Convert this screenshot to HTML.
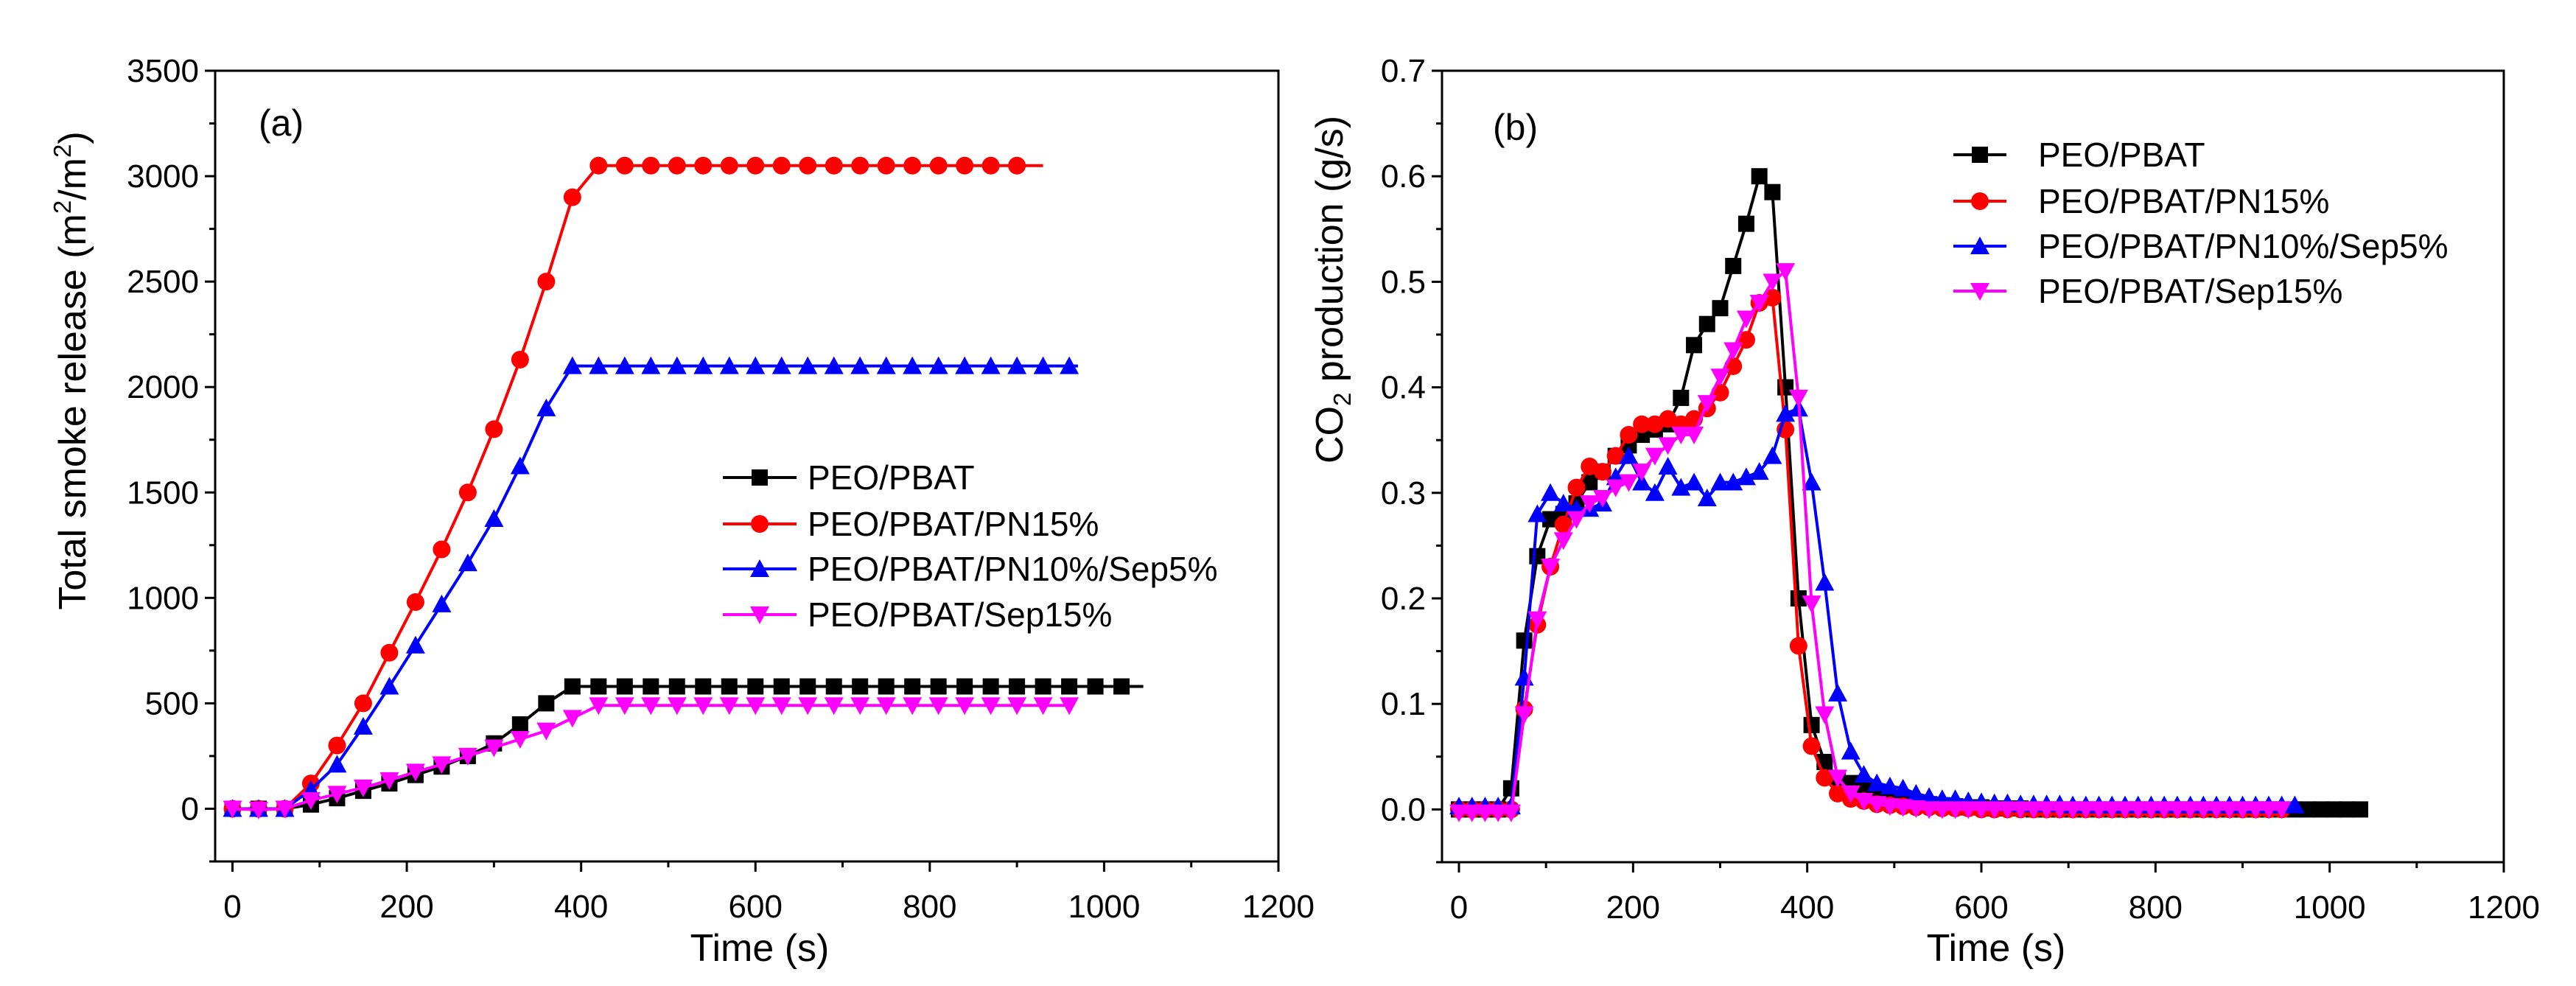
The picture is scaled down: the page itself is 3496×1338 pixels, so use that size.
<!DOCTYPE html>
<html><head><meta charset="utf-8"><style>
html,body{margin:0;padding:0;background:#fff;}
svg{display:block;font-family:"Liberation Sans",Arial,sans-serif;}
</style></head><body>
<svg id="chart" width="3496" height="1338" viewBox="0 0 3496 1338" xmlns="http://www.w3.org/2000/svg"></svg>
<script>
// ---------- Panel (a) data ----------
const timeA = [0,30,60,90,120,150,180,210,240,270,300,330,360,390,420,450,480,510,540,570,600,630,660,690,720,750,780,810,840,870,900,930,960,990,1020];
const smokeBlack = [0,0,0,20,50,85,120,160,200,250,310,400,500,580,580,580,580,580,580,580,580,580,580,580,580,580,580,580,580,580,580,580,580,580,580];
const smokeRed = [0,0,0,120,300,500,740,980,1230,1500,1800,2130,2500,2900,3050,3050,3050,3050,3050,3050,3050,3050,3050,3050,3050,3050,3050,3050,3050,3050,3050];
const smokeBlue = [0,0,0,90,210,390,580,775,970,1165,1375,1625,1900,2100,2100,2100,2100,2100,2100,2100,2100,2100,2100,2100,2100,2100,2100,2100,2100,2100,2100,2100,2100];
const smokeMagenta = [0,-5,0,40,70,100,135,175,210,250,290,330,370,430,490,490,490,490,490,490,490,490,490,490,490,490,490,490,490,490,490,490,490];
const lineEndA = [1045,930,970,965];
// ---------- Panel (b) data ----------
const stepB = 15;
const co2Black = [0,0,0,0,0.02,0.16,0.24,0.275,0.28,0.29,0.31,0.32,0.335,0.345,0.355,0.36,0.365,0.39,0.44,0.46,0.475,0.515,0.555,0.6,0.585,0.4,0.2,0.08,0.045,0.03,0.025,0.02,0.015,0.01,0.008,0.006,0.005,0.004,0.003,0.002,0.002,0.001,0.001,0.001,0,0,0,0,0,0,0,0,0,0,0,0,0,0,0,0,0,0,0,0,0,0,0,0,0,0];
const co2Red = [0,0,0,0,0,0.095,0.175,0.23,0.27,0.305,0.325,0.32,0.335,0.355,0.365,0.365,0.37,0.365,0.37,0.38,0.395,0.42,0.445,0.48,0.485,0.36,0.155,0.06,0.03,0.015,0.01,0.008,0.005,0.004,0.003,0.002,0.002,0.001,0.001,0.001,0,0,0,0,0,0,0,0,0,0,0,0,0,0,0,0,0,0,0,0,0,0,0,0];
const co2Blue = [0.003,0.003,0.003,0.003,0.003,0.125,0.28,0.3,0.29,0.285,0.285,0.29,0.315,0.335,0.31,0.3,0.325,0.305,0.31,0.295,0.31,0.31,0.315,0.32,0.335,0.375,0.38,0.31,0.215,0.11,0.055,0.033,0.025,0.022,0.02,0.015,0.012,0.01,0.01,0.008,0.007,0.006,0.006,0.005,0.005,0.005,0.005,0.004,0.004,0.004,0.004,0.004,0.004,0.004,0.004,0.004,0.004,0.004,0.004,0.004,0.004,0.004,0.004,0.004,0.004];
const co2Magenta = [-0.003,-0.003,-0.003,-0.003,-0.003,0.09,0.18,0.23,0.255,0.275,0.29,0.295,0.305,0.31,0.32,0.335,0.345,0.355,0.355,0.385,0.41,0.435,0.465,0.48,0.5,0.51,0.39,0.195,0.09,0.03,0.015,0.008,0.005,0.003,0.002,0.001,0,0,0,0,0,0,0,0,0,0,0,0,0,0,0,0,0,0,0,0,0,0,0,0,0,0,0,0];
const lineEndB = [1040,945,960,945];
const seriesNames = ["PEO/PBAT","PEO/PBAT/PN15%","PEO/PBAT/PN10%/Sep5%","PEO/PBAT/Sep15%"];
const seriesColors = ["#000000","#ff0000","#0000ff","#ff00ff"];
const seriesMarkers = ["square","circle","triangle","down"];
const xTicks = [0,200,400,600,800,1000,1200];
const yTicksA = [0,500,1000,1500,2000,2500,3000,3500];
const yTicksB = [0.0,0.1,0.2,0.3,0.4,0.5,0.6,0.7];

const NS="http://www.w3.org/2000/svg";
const svg=document.getElementById('chart');
function mk(tag,attrs,parent){const e=document.createElementNS(NS,tag);for(const k in attrs)e.setAttribute(k,attrs[k]);(parent||svg).appendChild(e);return e;}

function marker(g,type,x,y,color){
  const s=11;let e;
  if(type==="square") e=mk('rect',{x:x-s,y:y-s,width:2*s,height:2*s,fill:color},g);
  else if(type==="circle") e=mk('circle',{cx:x,cy:y,r:s+1,fill:color},g);
  else if(type==="triangle") e=mk('polygon',{points:`${x},${y-s-2} ${x+s+2},${y+s} ${x-s-2},${y+s}`,fill:color},g);
  else e=mk('polygon',{points:`${x-s-2},${y-s} ${x+s+2},${y-s} ${x},${y+s+2}`,fill:color},g);
  
  
}

function panel(o){
  const sx=v=>o.x0+(v-o.xmin)/(o.xmax-o.xmin)*(o.right-o.left0);
  const sy=v=>o.bottom-(v-o.ymin)/(o.ymax-o.ymin)*(o.bottom-o.top);
  const g=mk('g',{});
  
  
  xTicks.forEach(t=>{
    const X=sx(t);
    const l=mk('line',{x1:X,y1:o.bottom,x2:X,y2:o.bottom+14,stroke:'#000','stroke-width':3},g);
    
    const tx=mk('text',{x:X,y:o.bottom+76,'font-size':44,'text-anchor':'middle',fill:'#000'},g);
    tx.textContent=t;
    
    if(t<1200){const m=mk('line',{x1:sx(t+100),y1:o.bottom,x2:sx(t+100),y2:o.bottom+8,stroke:'#000','stroke-width':3},g);
      }
  });
  o.yTicks.forEach((t,i)=>{
    const Y=sy(t);
    const l=mk('line',{x1:o.left,y1:Y,x2:o.left-14,y2:Y,stroke:'#000','stroke-width':3},g);
    
    const tx=mk('text',{x:o.left-22,y:Y+15,'font-size':44,'text-anchor':'end',fill:'#000'},g);
    tx.textContent=o.fmt(t);
    
    const mY=sy(t-o.ystep/2);
    if(mY<=o.bottom){const m=mk('line',{x1:o.left,y1:mY,x2:o.left-8,y2:mY,stroke:'#000','stroke-width':3},g);
      }
  });
  o.series.forEach((s,i)=>{
    const sg=mk('g',{},g);
    
    
    let pts=s.vals.map((v,k)=>[sx(s.times[k]),sy(v)]);
    const last=s.vals[s.vals.length-1];
    pts.push([sx(s.end),sy(last)]);
    const pl=mk('polyline',{points:pts.map(p=>p.join(',')).join(' '),fill:'none',stroke:seriesColors[i],'stroke-width':4,'stroke-linejoin':'round'},sg);
    
    s.vals.forEach((v,k)=>marker(sg,seriesMarkers[i],sx(s.times[k]),sy(v),seriesColors[i]));
  });
  const fr=mk('rect',{x:o.left,y:o.top,width:o.right-o.left,height:o.bottom-o.top,fill:'none',stroke:'#000','stroke-width':3},g);
  
  o.legRows.forEach((y,i)=>{
    const lg=mk('g',{},g);
    
    
    mk('line',{x1:o.legX,y1:y,x2:o.legX+o.legW,y2:y,stroke:seriesColors[i],'stroke-width':4},lg);
    marker(lg,seriesMarkers[i],o.legX+o.legW/2,y,seriesColors[i]);
    const t=mk('text',{x:o.legTextX,y:y+16,'font-size':46,fill:'#000'},lg);
    t.textContent=seriesNames[i];
  });
  return {sx,sy};
}

function times(n,step){const a=[];for(let i=0;i<n;i++)a.push(i*step);return a;}

panel({name:'panel-a',left:292,left0:315.5,x0:315.5,right:1735,xmin:0,xmax:1200,top:96,bottom:1169,ymin:-250,ymax:3500,
  yTicks:yTicksA,ystep:500,fmt:v=>String(v),
  series:[
    {times:timeA,vals:smokeBlack,end:lineEndA[0]},
    {times:timeA,vals:smokeRed,end:lineEndA[1]},
    {times:timeA,vals:smokeBlue,end:lineEndA[2]},
    {times:timeA,vals:smokeMagenta,end:lineEndA[3]}],
  legRows:[648,711,772,834],legX:981,legW:100,legTextX:1096});
panel({name:'panel-b',left:1957,left0:1980,x0:1980,right:3398,xmin:0,xmax:1200,top:96,bottom:1170,ymin:-0.05,ymax:0.7,
  yTicks:yTicksB,ystep:0.1,fmt:v=>v.toFixed(1),
  series:[
    {times:times(co2Black.length,stepB),vals:co2Black,end:lineEndB[0]},
    {times:times(co2Red.length,stepB),vals:co2Red,end:lineEndB[1]},
    {times:times(co2Blue.length,stepB),vals:co2Blue,end:lineEndB[2]},
    {times:times(co2Magenta.length,stepB),vals:co2Magenta,end:lineEndB[3]}],
  legRows:[210,273,334,395],legX:2651,legW:72,legTextX:2766});

function txt(s,attrs,name){const t=mk('text',attrs);t.textContent=s;return t;}
txt('(a)',{x:351,y:184,'font-size':50},'panel-a-label');
txt('(b)',{x:2026,y:190,'font-size':50},'panel-b-label');
txt('Time (s)',{x:1031,y:1304,'font-size':52,'text-anchor':'middle'},'x-axis-title-a');
txt('Time (s)',{x:2709,y:1304,'font-size':52,'text-anchor':'middle'},'x-axis-title-b');
const ya=mk('text',{x:0,y:0,'font-size':52,'text-anchor':'middle',transform:'translate(116,503) rotate(-90)'});
ya.innerHTML='Total smoke release (m<tspan font-size="33" dy="-20">2</tspan><tspan dy="20">/m</tspan><tspan font-size="33" dy="-20">2</tspan><tspan dy="20">)</tspan>';

const yb=mk('text',{x:0,y:0,'font-size':52,'text-anchor':'middle',transform:'translate(1822,393) rotate(-90)'});
yb.innerHTML='CO<tspan font-size="33" dy="11">2</tspan><tspan dy="-11"> production (g/s)</tspan>';

</script>
</body></html>
